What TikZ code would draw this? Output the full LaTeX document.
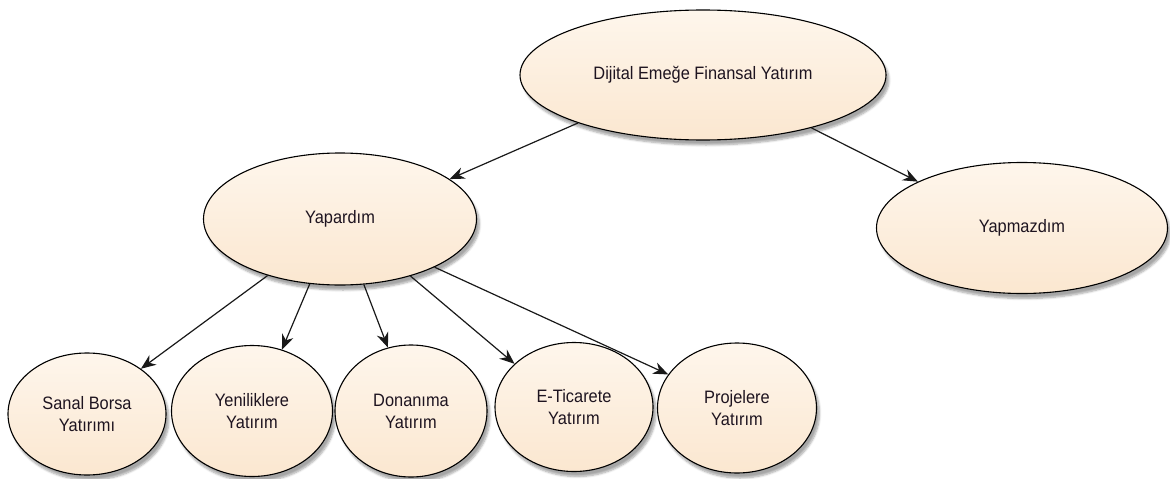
\documentclass[tikz,border=0pt]{standalone}
\usepackage{fontspec}
\setmainfont[FakeStretch=0.91]{Liberation Sans}
\usetikzlibrary{shapes.geometric,arrows.meta,shadows.blur}
\definecolor{ptop}{RGB}{254,246,236}
\definecolor{pbot}{RGB}{251,231,208}
\definecolor{txt}{RGB}{30,20,32}
\definecolor{lnc}{RGB}{25,25,25}
\tikzset{
  oval/.style={ellipse, draw=black, line width=1.1pt, inner sep=0pt,
    top color=ptop, bottom color=pbot, text=txt, align=center,
    font=\fontsize{18}{22}\selectfont,
    blur shadow={shadow xshift=3pt, shadow yshift=-5pt, shadow blur steps=6, shadow opacity=35}},
  link/.style={draw=lnc, line width=1.2pt, -{Stealth[length=15pt,width=12pt]}}
}
\begin{document}
\begin{tikzpicture}[x=1pt,y=-1pt]
\useasboundingbox (0,0) rectangle (1170,479);
\node[oval, minimum width=366pt, minimum height=130pt] (top) at (703,75) {Dijital Emeğe Finansal Yatırım};
\node[oval, minimum width=273pt, minimum height=132pt] (yap) at (340,219) {Yapardım};
\node[oval, minimum width=291pt, minimum height=131pt] (ymz) at (1022,228) {Yapmazdım};
\node[oval, minimum width=158pt, minimum height=122pt] (sb) at (87,414) {Sanal Borsa\\Yatırımı};
\node[oval, minimum width=161pt, minimum height=131pt] (yen) at (252,411) {Yeniliklere\\Yatırım};
\node[oval, minimum width=152pt, minimum height=132pt] (don) at (411,411) {Donanıma\\Yatırım};
\node[oval, minimum width=158pt, minimum height=129pt] (etc) at (574,407) {E-Ticarete\\Yatırım};
\node[oval, minimum width=159pt, minimum height=130pt] (prj) at (737,408) {Projelere\\Yatırım};
\draw[link] (top.201) -- (yap.20);
\draw[link] (top.334) -- (ymz.156);
\draw[link] (yap.218) -- (sb.40);
\draw[link] (yap.245) -- (yen.64);
\draw[link] (yap.290) -- (don.110);
\draw[link] (yap.321) -- (etc.144);
\draw[link] (yap.333) -- (prj.154);
\end{tikzpicture}
\end{document}
